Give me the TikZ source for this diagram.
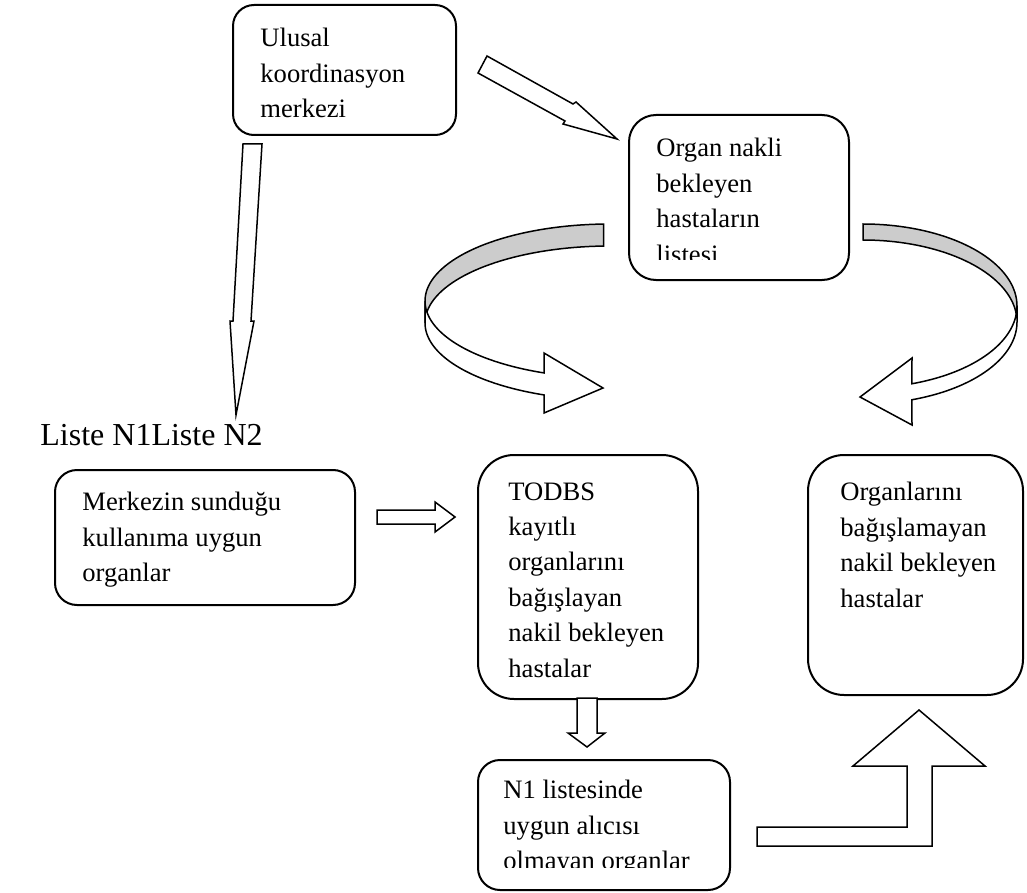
\documentclass[tikz,border=0pt]{standalone}
\usepackage{fontspec}
\setmainfont{Liberation Serif}
\usepackage{tikz}

\begin{document}
\begin{tikzpicture}[x=0.5pt, y=-0.5pt,
    box/.style={draw, line width=1pt, fill=white, rounded corners=#1, anchor=north west, inner sep=0pt},
    txt/.style={anchor=north west, align=left, inner sep=0pt, font=\fontsize{13.3}{17.7}\selectfont},
    blockarrow/.style={draw, line width=0.75pt, fill=white, line join=miter},
    ribbon/.style={draw, line width=0.75pt, fill=black!20}]
        \useasboundingbox (0,0) rectangle (1027,893);

        % Ulusal koordinasyon merkezi
        \node[box=10.5pt, minimum width=111.5pt, minimum height=65pt] (ulusal) at (232,4) {};
        \node[txt] (ulusalTxt) at ([shift={(28,24)}]ulusal.north west) {Ulusal\\koordinasyon\\merkezi};

        % Bekleyen hastalarin listesi (text cut at the bottom)
        \node[box=13.5pt, minimum width=110pt, minimum height=82.5pt] (liste) at (628,114) {};
        \begin{scope}
            \clip (628,114) rectangle (848,259.5);
            \node[txt] (listeTxt) at ([shift={(28,24)}]liste.north west) {Organ nakli\\bekleyen\\hastaların\\listesi};
        \end{scope}

        % Liste N1 / Liste N2 label
        \node[anchor=base west, inner sep=0pt, font=\fontsize{16}{19}\selectfont] (listeN) at (40,445) {Liste N1Liste N2};

        % Merkezin sundugu organlar
        \node[box=11pt, minimum width=150pt, minimum height=67.5pt] (merkez) at (54,469) {};
        \node[txt] (merkezTxt) at ([shift={(28,23)}]merkez.north west) {Merkezin sunduğu\\kullanıma uygun\\organlar};

        % TODBS kayitli hastalar
        \node[box=18pt, minimum width=110pt, minimum height=122pt] (todbs) at (477,454) {};
        \node[txt] (todbsTxt) at ([shift={(31,28)}]todbs.north west) {TODBS\\kayıtlı\\organlarını\\bağışlayan\\nakil bekleyen\\hastalar};

        % Bagislamayan hastalar
        \node[box=18pt, minimum width=107.5pt, minimum height=120pt] (bagis) at (807,454) {};
        \node[txt] (bagisTxt) at ([shift={(33,28)}]bagis.north west) {Organlarını\\bağışlamayan\\nakil bekleyen\\hastalar};

        % N1 listesinde alicisi olmayan organlar (text cut at the bottom)
        \node[box=11pt, minimum width=126pt, minimum height=65pt] (alici) at (477,759) {};
        \begin{scope}
            \clip (477,759) rectangle (729,867);
            \node[txt] (aliciTxt) at ([shift={(26,21)}]alici.north west) {N1 listesinde\\uygun alıcısı\\olmayan organlar};
        \end{scope}

        % Block arrows
        \draw[blockarrow] (243,144) -- (262,144) -- (251,321) -- (254,321) -- (236,415) -- (230,321) -- (233,321) -- cycle;
        \draw[blockarrow] (487,56) -- (573,104) -- (576,102) -- (617,139) -- (563,124) -- (565,121) -- (478,73) -- cycle;
        \draw[blockarrow] (377,510) -- (435,510) -- (435,502) -- (455,517) -- (435,532) -- (435,524) -- (377,524) -- cycle;
        \draw[blockarrow] (577,698) -- (597,698) -- (597,733) -- (605,733) -- (587,747) -- (568,733) -- (577,733) -- cycle;
        \draw[blockarrow] (757,827) -- (907,827) -- (907,766) -- (853,766) -- (919,710) -- (985,766) -- (932,766) -- (932,846) -- (757,846) -- cycle;

        % Curved arrow, left side
        \draw[ribbon] plot[domain=268:180, samples=40, variable=\t] ({610+185*cos(\t)},{301+77*sin(\t)})
            -- plot[domain=180:268, samples=40, variable=\t] ({610+185*cos(\t)},{323+77*sin(\t)}) -- cycle;
        \draw[blockarrow] plot[domain=180:110.9, samples=40, variable=\t] ({610+185*cos(\t)},{301+77*sin(\t)})
            -- (544,353) -- (603,388) -- (544,413)
            -- plot[domain=110.9:180, samples=40, variable=\t] ({610+185*cos(\t)},{323+77*sin(\t)}) -- cycle;

        % Curved arrow, right side
        \draw[ribbon] plot[domain=270:360, samples=40, variable=\t] ({863+154*cos(\t)},{306+82*sin(\t)})
            -- plot[domain=360:270, samples=40, variable=\t] ({863+154*cos(\t)},{322+82*sin(\t)}) -- cycle;
        \draw[blockarrow] plot[domain=0:71.5, samples=40, variable=\t] ({863+154*cos(\t)},{306+82*sin(\t)})
            -- (912,358) -- (860,397) -- (912,425)
            -- plot[domain=71.5:0, samples=40, variable=\t] ({863+154*cos(\t)},{322+82*sin(\t)}) -- cycle;
\end{tikzpicture}
\end{document}
